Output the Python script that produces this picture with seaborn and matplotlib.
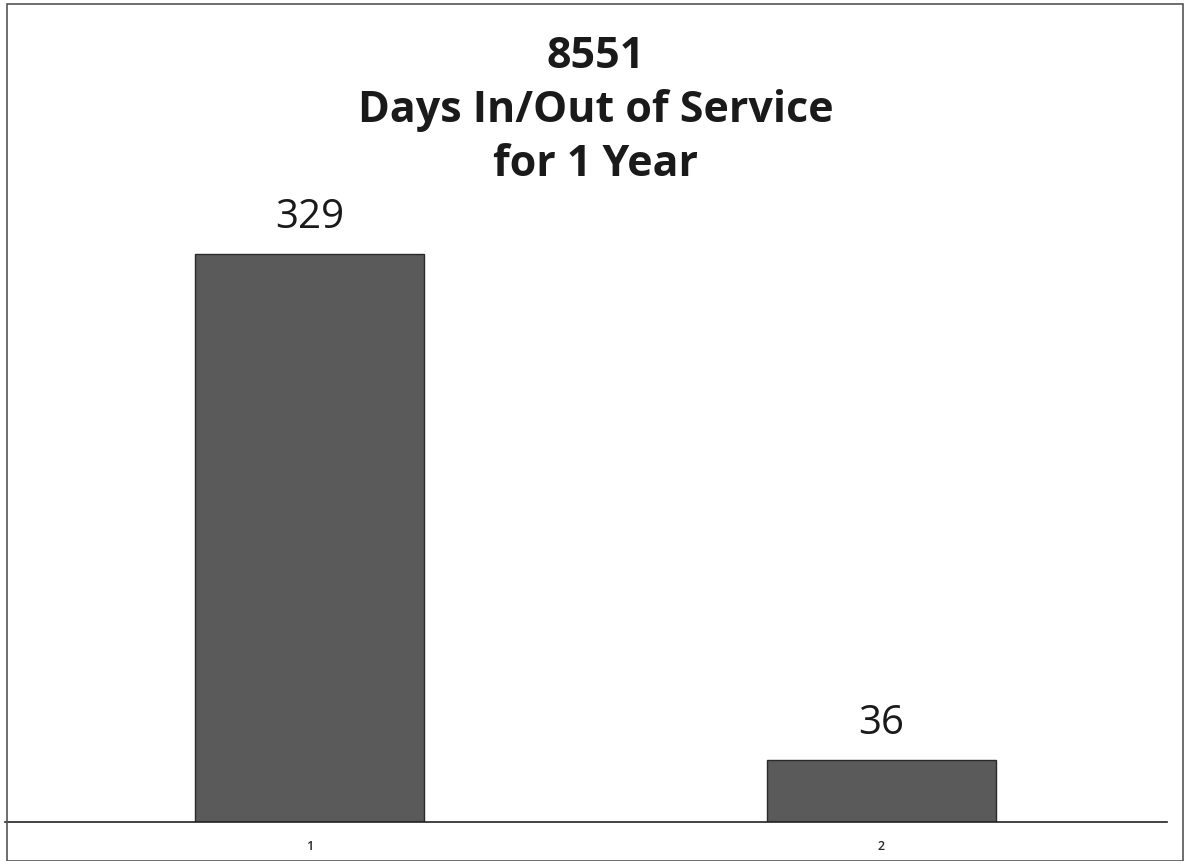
import pandas as pd
import seaborn as sns
import matplotlib.pyplot as plt
from matplotlib.patches import Rectangle

categories = ["1", "2"]
days = [329, 36]
title_lines = ["8551", "Days In/Out of Service", "for 1 Year"]

df = pd.DataFrame({"cat": categories, "days": days})

sns.set_style("white")
plt.rcParams["font.family"] = ["Open Sans", "DejaVu Sans"]

fig = plt.figure(figsize=(11.87, 8.62), dpi=100)
ax = fig.add_axes([5 / 1187, 39 / 862, 1162 / 1187, 633 / 862])

sns.barplot(data=df, x="cat", y="days", color="#5a5a5a", width=0.4,
            edgecolor="#2a2a2a", linewidth=1, saturation=1, ax=ax)

for i, v in enumerate(days):
    ax.text(i, v + 10, str(v), ha="center", va="bottom", fontsize=29,
            color="#1a1a1a")

ax.set_xlim(-0.533, 1.5)
ax.set_ylim(0, 366.7)
ax.set_xlabel("")
ax.set_ylabel("")
ax.set_yticks([])
ax.tick_params(axis="x", length=0, labelsize=9, pad=12)
for lbl in ax.get_xticklabels():
    lbl.set_fontweight("semibold")
for s in ["top", "left", "right"]:
    ax.spines[s].set_visible(False)
ax.spines["bottom"].set_color("#222222")
ax.spines["bottom"].set_linewidth(1.2)

for k, line in enumerate(title_lines):
    fig.text(596 / 1187, 1 - (57 + 54 * k) / 862, line, ha="center",
             va="center", fontsize=31, fontweight="bold", color="#1a1a1a")

fig.patches.append(Rectangle((7 / 1187, 0), 1176 / 1187, 1 - 5 / 862,
                             transform=fig.transFigure, fill=False,
                             edgecolor="#555555", linewidth=1.2))

fig.savefig("out.png", dpi=100)
